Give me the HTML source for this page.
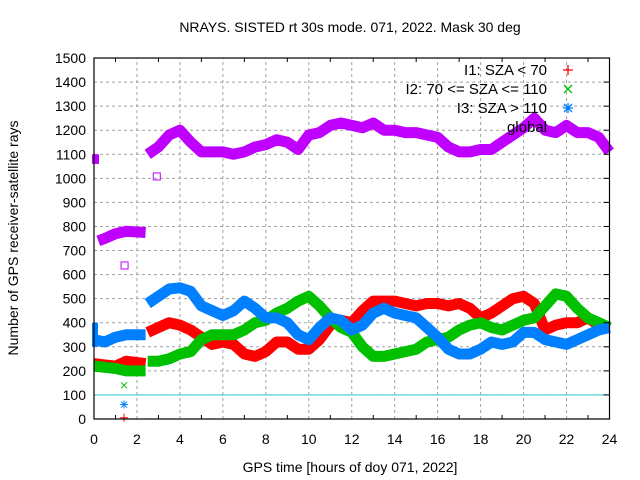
<!DOCTYPE html>
<html><head><meta charset="utf-8"><style>
body{margin:0;background:#fff}
svg{display:block;font-family:"Liberation Sans",sans-serif}
</style></head><body>
<svg id="chart" width="640" height="480" xmlns="http://www.w3.org/2000/svg">
<text x="350" y="32" text-anchor="middle" font-size="14">NRAYS. SISTED rt 30s mode. 071, 2022. Mask 30 deg</text>
<text x="350" y="472" text-anchor="middle" font-size="14">GPS time [hours of doy 071, 2022]</text>
<text transform="translate(18,238) rotate(-90)" text-anchor="middle" font-size="14">Number of GPS receiver-satellite rays</text>
<g id="grid"></g>
<g id="marks"></g>
<g id="axes"></g>
<g font-size="15">
<text x="547" y="75" text-anchor="end">I1: SZA &lt; 70</text>
<text x="547" y="94" text-anchor="end">I2: 70 &lt;= SZA &lt;= 110</text>
<text x="547" y="113" text-anchor="end">I3: SZA &gt; 110</text>
<text x="547" y="132" text-anchor="end">global</text>
<g stroke-width="1.3"><path d="M563 70h10M568 65v10" stroke="#ff0000"/>
<path d="M564 85l8 8M564 93l8-8" stroke="#00c000"/>
<path d="M563 108h10M568 103v10M564 104l8 8M564 112l8-8" stroke="#0080ff"/></g>
</g>
</svg>
<script>
const hours = [0,0.5,1,1.5,2,2.5,3,3.5,4,4.5,5,5.5,6,6.5,7,7.5,8,8.5,9,9.5,10,10.5,11,11.5,12,12.5,13,13.5,14,14.5,15,15.5,16,16.5,17,17.5,18,18.5,19,19.5,20,20.5,21,21.5,22,22.5,23,23.5,24];
const i1 = [230,225,220,240,230,360,380,400,390,370,340,310,320,310,270,260,280,320,320,290,290,330,390,410,400,450,490,490,490,480,470,480,480,470,480,460,420,440,470,500,510,480,370,390,400,400,420,390,380];
const i2 = [220,215,210,200,200,240,240,250,270,280,330,350,350,350,370,400,410,440,460,490,510,470,420,380,360,300,260,260,270,280,290,320,330,340,370,390,400,380,370,390,410,420,470,520,510,460,420,400,380];
const i3 = [330,320,340,350,350,480,510,540,545,530,470,450,430,450,490,460,420,420,400,350,330,380,420,410,370,390,440,460,440,430,420,380,340,290,270,270,290,320,310,320,360,360,330,320,310,330,350,370,380];
const globalRays = [740,750,770,780,775,1100,1130,1180,1200,1150,1110,1110,1110,1100,1110,1130,1140,1160,1150,1120,1180,1190,1220,1230,1220,1210,1230,1200,1200,1190,1190,1180,1170,1130,1110,1110,1120,1120,1150,1180,1210,1250,1200,1190,1220,1190,1190,1170,1110];
const globalStart = [1100,1060];
const xTicks = [0,2,4,6,8,10,12,14,16,18,20,22,24];
const yTicks = [0,100,200,300,400,500,600,700,800,900,1000,1100,1200,1300,1400,1500];
const NS="http://www.w3.org/2000/svg";
const X0=94,X1=609.5,Y0=419,Y1=58;
const sx=h=>X0+(X1-X0)*h/24, sy=v=>Y0-(Y0-Y1)*v/1500;
function mk(tag,attrs,parent){const e=document.createElementNS(NS,tag);for(const k in attrs)e.setAttribute(k,attrs[k]);parent.appendChild(e);return e;}
const grid=document.getElementById('grid'),marks=document.getElementById('marks'),axes=document.getElementById('axes');
xTicks.forEach(t=>{
 if(t>0&&t<24){const l=mk('line',{x1:sx(t),x2:sx(t),y1:Y0,y2:Y1,stroke:'#a0a0a0','stroke-dasharray':'3,3'},grid);
 
 }
 const tk=mk('text',{x:sx(t),y:Y0+25,'text-anchor':'middle','font-size':'14'},axes);tk.textContent=t;
 
 
});
for(let h=1;h<24;h+=2){mk('line',{x1:sx(h),x2:sx(h),y1:Y0,y2:Y0-4,stroke:'#000'},axes);mk('line',{x1:sx(h),x2:sx(h),y1:Y1,y2:Y1+4,stroke:'#000'},axes);}
yTicks.forEach(t=>{
 if(t>0&&t<1500){const l=mk('line',{x1:X0,x2:X1,y1:sy(t),y2:sy(t),stroke:'#a0a0a0','stroke-dasharray':'3,3'},grid);
 
 }
 const tk=mk('text',{x:X0-8,y:sy(t)+5,'text-anchor':'end','font-size':'14'},axes);tk.textContent=t;
 
 
 mk('line',{x1:X1,x2:X1-6,y1:sy(t),y2:sy(t),stroke:'#000'},axes);
});
const ref=mk('line',{x1:X0,x2:X1,y1:sy(100),y2:sy(100),stroke:'#40d0d0','stroke-width':1.2},marks);


function series(vals,color,name){
 const segs=[[0,1,2,3,4],[5,6,7,8,9,10,11,12,13,14,15,16,17,18,19,20,21,22,23,24,25,26,27,28,29,30,31,32,33,34,35,36,37,38,39,40,41,42,43,44,45,46,47,48]];
 segs.forEach(s=>{
  let d='';s.forEach((i,k)=>{let h=hours[i];if(i===4)h=2.4;if(i===5)h=2.5;if(i===0&&name==='global')h=0.2;d+=(k?'L':'M')+sx(h).toFixed(1)+' '+sy(vals[i]).toFixed(1);});
  const p=mk('path',{d:d,fill:'none',stroke:color,'stroke-width':11,'stroke-linejoin':'round','stroke-linecap':'butt'},marks);
  
  
 });
}
series(i1,'#ff0000','i1');
series(i2,'#00c000','i2');
series(i3,'#0080ff','i3');
series(globalRays,'#c000ff','global');
const gs=mk('rect',{x:sx(0)-2,y:sy(globalStart[0]),width:7,height:sy(globalStart[1])-sy(globalStart[0]),fill:'#c000ff'},marks);


const bs=mk('rect',{x:sx(0)-2,y:sy(400),width:6,height:sy(300)-sy(400),fill:'#0080ff'},marks);


mk('rect',{x:sx(1.4)-3,y:sy(640)-3,width:7,height:7,fill:'none',stroke:'#c000ff'},marks);
mk('rect',{x:sx(2.9)-3,y:sy(1010)-3,width:7,height:7,fill:'none',stroke:'#c000ff'},marks);
mk('path',{d:`M${sx(1.4)-4} ${sy(60)}h8M${sx(1.4)} ${sy(60)-4}v8M${sx(1.4)-3} ${sy(60)-3}l6 6M${sx(1.4)-3} ${sy(60)+3}l6-6`,stroke:'#0080ff'},marks);
mk('path',{d:`M${sx(1.4)-4} ${sy(5)}h8M${sx(1.4)} ${sy(5)-4}v8`,stroke:'#ff0000'},marks);
mk('path',{d:`M${sx(1.4)-3} ${sy(140)-3}l6 6M${sx(1.4)-3} ${sy(140)+3}l6-6`,stroke:'#00c000'},marks);
mk('rect',{x:X0,y:Y1,width:X1-X0,height:Y0-Y1,fill:'none',stroke:'#000','stroke-width':1.2},axes);
</script>
</body></html>
